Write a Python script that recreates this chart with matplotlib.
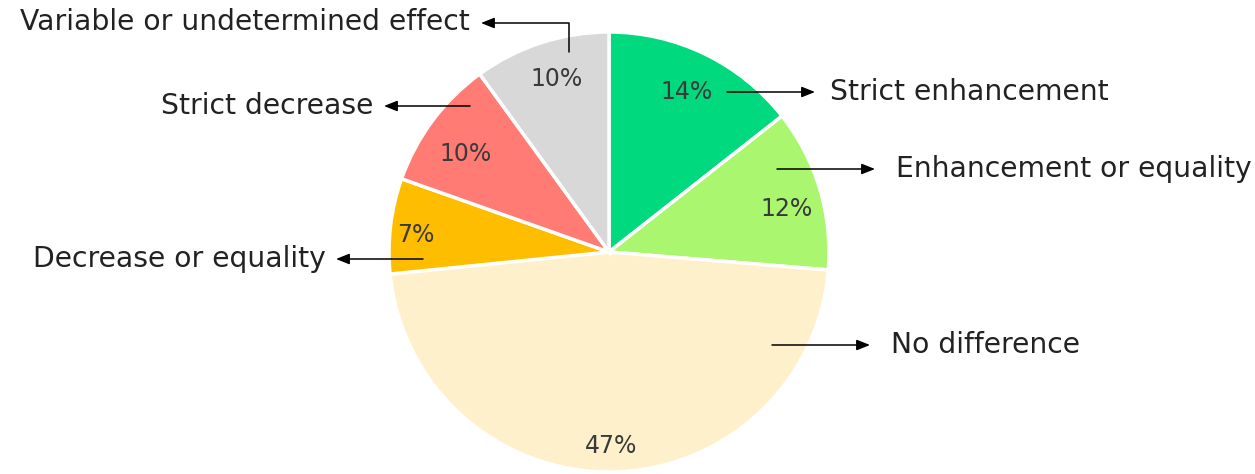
import numpy as np
import matplotlib
matplotlib.use("Agg")
import matplotlib.pyplot as plt

categories = ["Strict enhancement", "Enhancement or equality", "No difference",
              "Decrease or equality", "Strict decrease", "Variable or undetermined effect"]
values = [14.4, 11.9, 47.1, 7.0, 9.6, 10.0]
colors = ["#00D97E", "#AAF76F", "#FFF0CC", "#FFBD00", "#FF7B74", "#D8D8D8"]

W, H = 1255, 474
fig = plt.figure(figsize=(W / 100, H / 100), dpi=100)
ax = fig.add_axes([0, 0, 1, 1])

def Y(y):
    return H - y

cx, cy, R = 609, Y(252), 220
wedges, _ = ax.pie(values, colors=colors, startangle=90, counterclock=False,
                   center=(cx, cy), radius=R, frame=True,
                   wedgeprops=dict(edgecolor="white", linewidth=2.5))
ax.set_xlim(0, W)
ax.set_ylim(0, H)
ax.set_aspect("equal")
ax.axis("off")

font = "DejaVu Sans"
# percentage labels
pct_r = [0.81, 0.83, 0.88, 0.88, 0.79, 0.82]
pct_da = [0, -3, 0, 1.7, 2.2, -1]
for w, v, rf, da in zip(wedges, values, pct_r, pct_da):
    ang = np.deg2rad((w.theta1 + w.theta2) / 2 + da)
    ax.text(cx + rf * R * np.cos(ang), cy + rf * R * np.sin(ang), f"{round(v)}%",
            ha="center", va="center", fontsize=17, color="#3a3a3a", family=font)

arrow = dict(arrowstyle="-|>,head_length=0.8,head_width=0.32", color="black",
             lw=1.1, shrinkA=0, shrinkB=0)

fs = 20.3
tc = "#222222"
# right side labels
right = [(0, 727, 815, 92, 830), (1, 777, 875, 169, 896), (2, 772, 870, 345, 891)]
for i, x0, x1, y, xt in right:
    ax.annotate("", xy=(x1, Y(y)), xytext=(x0, Y(y)), arrowprops=arrow)
    ax.text(xt, Y(y), categories[i], ha="left", va="center", fontsize=fs,
            color=tc, family=font)

left = [(3, 423, 336, 259, 326), (4, 470, 384, 106, 373)]
for i, x0, x1, y, xt in left:
    ax.annotate("", xy=(x1, Y(y)), xytext=(x0, Y(y)), arrowprops=arrow)
    ax.text(xt, Y(y), categories[i], ha="right", va="center", fontsize=fs,
            color=tc, family=font)

# elbow arrow for variable
ax.annotate("", xy=(481, Y(23)), xytext=(569, Y(52)),
            arrowprops=dict(arrow, connectionstyle="angle,angleA=90,angleB=0,rad=0"))
ax.text(470, Y(22), categories[5], ha="right", va="center", fontsize=fs,
        color=tc, family=font)

fig.savefig("out.png", dpi=100, facecolor="white")
